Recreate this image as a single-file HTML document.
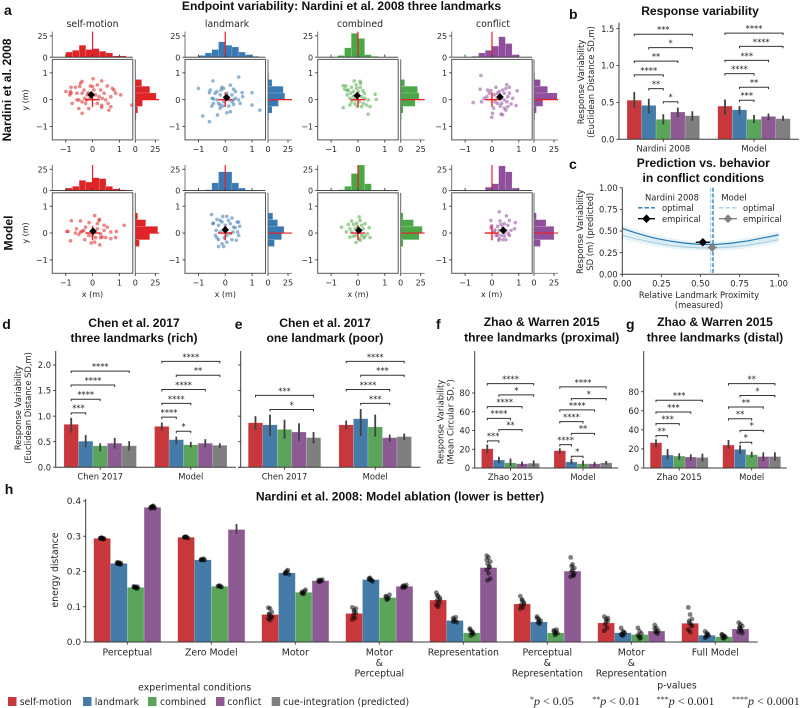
<!DOCTYPE html>
<html lang="en">
<head>
<meta charset="utf-8">
<title>Endpoint variability figure</title>
<style>
html,body{margin:0;padding:0;background:#fff;}
svg{display:block;}
text{font-family:"DejaVu Sans","Liberation Sans",sans-serif;font-size:8.4px;fill:#262626;}
.bold{font-family:"Liberation Sans",Arial,sans-serif;font-weight:700;fill:#111;}
.letter{font-family:"Liberation Sans",Arial,sans-serif;font-weight:700;font-size:14px;fill:#111;}
.title{font-size:12.1px;}
.big{font-size:9.35px;}
.math{font-family:"Liberation Serif",serif;font-size:12px;fill:#262626;}
.mathi{font-style:italic;}
</style>
</head>
<body>
<svg id="figure" xmlns="http://www.w3.org/2000/svg" width="800" height="708" viewBox="0 0 800 708">
<rect x="0" y="0" width="800" height="708" fill="#fff"/>

<text class="letter" x="4" y="15">a</text>
<text class="letter" x="569" y="19">b</text>
<text class="letter" x="569" y="169">c</text>
<text class="letter" x="2.3" y="329">d</text>
<text class="letter" x="234.7" y="329">e</text>
<text class="letter" x="436" y="329">f</text>
<text class="letter" x="626" y="329">g</text>
<text class="letter" x="4.7" y="494">h</text>

<text class="bold title" x="341.5" y="10" text-anchor="middle">Endpoint variability: Nardini et al. 2008 three landmarks</text>
<text class="bold" style="font-size:12.1px" transform="translate(11,90) rotate(-90)" text-anchor="middle">Nardini et al. 2008</text>
<text class="bold" style="font-size:12.1px" transform="translate(12.5,233) rotate(-90)" text-anchor="middle">Model</text>
<text class="big" x="92.5" y="27" text-anchor="middle">self-motion</text>
<text class="big" x="227" y="27" text-anchor="middle">landmark</text>
<text class="big" x="360" y="27" text-anchor="middle">combined</text>
<text class="big" x="493" y="27" text-anchor="middle">conflict</text>
<text style="font-size:8px" transform="translate(28,100) rotate(-90)" text-anchor="middle">y (m)</text>
<text style="font-size:8px" transform="translate(28,233) rotate(-90)" text-anchor="middle">y (m)</text>
<text style="font-size:8px" x="92.5" y="297" text-anchor="middle">x (m)</text>
<text style="font-size:8px" x="225.3" y="297" text-anchor="middle">x (m)</text>
<text style="font-size:8px" x="358" y="297" text-anchor="middle">x (m)</text>
<text style="font-size:8px" x="491.7" y="297" text-anchor="middle">x (m)</text>

<text class="bold title" x="700" y="15" text-anchor="middle">Response variability</text>
<text transform="translate(584,82) rotate(-90)" text-anchor="middle">Response Variability</text>
<text transform="translate(594,82) rotate(-90)" text-anchor="middle">(Euclidean Distance SD,m)</text>

<text class="bold title" x="703.3" y="167" text-anchor="middle">Prediction vs. behavior</text>
<text class="bold title" x="703.3" y="182" text-anchor="middle">in conflict conditions</text>
<text transform="translate(583,231.7) rotate(-90)" text-anchor="middle">Response Variability</text>
<text transform="translate(593,231.7) rotate(-90)" text-anchor="middle">SD (m) (predicted)</text>
<text x="699" y="298" text-anchor="middle">Relative Landmark Proximity</text>
<text x="699" y="308" text-anchor="middle">(measured)</text>

<text class="bold title" x="134" y="327" text-anchor="middle">Chen et al. 2017</text>
<text class="bold title" x="134" y="342" text-anchor="middle">three landmarks (rich)</text>
<text transform="translate(21,408) rotate(-90)" text-anchor="middle">Response Variability</text>
<text transform="translate(31,408) rotate(-90)" text-anchor="middle">(Euclidean Distance SD,m)</text>
<text class="bold title" x="325" y="327" text-anchor="middle">Chen et al. 2017</text>
<text class="bold title" x="325" y="342" text-anchor="middle">one landmark (poor)</text>
<text class="bold title" x="541.7" y="326" text-anchor="middle">Zhao &amp; Warren 2015</text>
<text class="bold title" x="541.7" y="341.5" text-anchor="middle">three landmarks (proximal)</text>
<text transform="translate(443.5,422) rotate(-90)" text-anchor="middle">Response Variability</text>
<text transform="translate(453.5,422) rotate(-90)" text-anchor="middle">(Mean Circular SD,°)</text>
<text class="bold title" x="715" y="326" text-anchor="middle">Zhao &amp; Warren 2015</text>
<text class="bold title" x="715" y="341.5" text-anchor="middle">three landmarks (distal)</text>

<text class="bold title" x="400" y="500.5" text-anchor="middle">Nardini et al. 2008: Model ablation (lower is better)</text>
<text class="big" transform="translate(58,570) rotate(-90)" text-anchor="middle">energy distance</text>

<g>
<text x="672" y="200.5" text-anchor="middle">Nardini 2008</text>
<line x1="638" x2="655" y1="207.8" y2="207.8" stroke="#1f78b4" stroke-width="1.4" stroke-dasharray="4.5 2"/>
<text x="662" y="211">optimal</text>
<line x1="638" x2="655" y1="218.7" y2="218.7" stroke="#000" stroke-width="1.3"/>
<path d="M646.5 214.4 L650.8 218.7 L646.5 223 L642.2 218.7 Z" fill="#000"/>
<text x="662" y="221.8">empirical</text>
<text x="734" y="200.5" text-anchor="middle">Model</text>
<line x1="719" x2="737" y1="207.8" y2="207.8" stroke="#a6cee3" stroke-width="1.4" stroke-dasharray="4.5 2"/>
<text x="743" y="211">optimal</text>
<line x1="719" x2="737" y1="218.7" y2="218.7" stroke="#7f7f7f" stroke-width="1.3"/>
<path d="M728 214.4 L732.3 218.7 L728 223 L723.7 218.7 Z" fill="#7f7f7f"/>
<text x="743" y="221.8">empirical</text>
</g>

<g>
<text class="big" x="194.7" y="690.5" text-anchor="middle">experimental conditions</text>
<rect x="8" y="697" width="8.5" height="9" fill="#c8373b"/>
<text class="big" x="19.7" y="705">self-motion</text>
<rect x="83" y="697" width="8.5" height="9" fill="#447ba8"/>
<text class="big" x="94.7" y="705">landmark</text>
<rect x="148" y="697" width="8.5" height="9" fill="#5aa55a"/>
<text class="big" x="160" y="705">combined</text>
<rect x="216" y="697" width="8.5" height="9" fill="#8e5a94"/>
<text class="big" x="227.3" y="705">conflict</text>
<rect x="271.7" y="697" width="8.5" height="9" fill="#7f7f7f"/>
<text class="big" x="283" y="705">cue-integration (predicted)</text>
</g>

<g>
<text class="big" x="677" y="688.5" text-anchor="middle">p-values</text>
<text class="math" x="530" y="705"><tspan dy="-3" font-size="8">*</tspan><tspan dy="3" class="mathi">p</tspan> &lt; 0.05</text>
<text class="math" x="592.3" y="705"><tspan dy="-3" font-size="8">**</tspan><tspan dy="3" class="mathi">p</tspan> &lt; 0.01</text>
<text class="math" x="656.7" y="705"><tspan dy="-3" font-size="8">***</tspan><tspan dy="3" class="mathi">p</tspan> &lt; 0.001</text>
<text class="math" x="732" y="705"><tspan dy="-3" font-size="8">****</tspan><tspan dy="3" class="mathi">p</tspan> &lt; 0.0001</text>
</g>
</svg>

<script>
// ---------- Panel a data: endpoints ----------
const selfMotionNardini = [[-.99,.30],[-.80,.46],[-.64,.46],[-.45,.61],[-.39,.68],[-.48,.49],[-.85,.18],[-.80,.24],[-.58,.24],[-.39,.24],[-.51,-.01],[-.76,-.14],[-.51,-.33],[-.39,-.51],[-.2,.18],[-.16,.26],[-.22,-.01],[.18,-.14],[.34,-.21],[.02,.78],[.34,.70],[.55,.51],[.68,.11],[1.05,.18],[.58,-.14],[.68,-.26],[.61,-.39],[.34,-.29],[.18,.55],[-.08,.51],[.11,.18],[.3,.36],[.43,.24],[.8,.36],[.49,-.01],[-.14,-.33],[-.32,.36],[.05,.36],[.24,.11],[.36,.05],[-.3,.05],[-.39,-.08],[-.1,.05],[.86,.24],[1.46,-.2],[-.82,.3],[-.58,-.01],[.74,.42],[0,.49],[-.26,-.14]];
const landmarkNardini = [[-1,.42],[-.46,.7],[.5,.84],[-.56,.36],[-.59,.26],[1,.26],[-.84,-.61],[-.59,-.82],[-.29,-.57],[-.5,-.24],[-.49,.05],[-.44,.03],[1.29,-.39],[1,-.2],[.63,.26],[.65,.11],[.56,-.14],[.31,-.18],[.19,-.45],[.06,-.49],[-.19,-.32],[-.25,-.14],[-.06,.42],[.19,.54],[-.13,.46],[.31,.39],[-.31,.3],[-.19,.18],[.06,.24],[.25,.18],[.38,.05],[-.06,-.08],[-.31,-.01],[.13,-.01],[.25,-.08],[-.19,-.2],[.31,-.01],[0,.11],[-.16,.36],[.5,-.01],[-.44,-.14],[-.09,-.24],[.13,-.24],[-.38,.24],[.38,.3]];
const combinedNardini = [[-.14,.7],[-.55,.52],[-.45,.51],[.1,.61],[.08,.68],[.64,.2],[.68,.01],[-.55,-.3],[.38,-.54],[.14,-.26],[-.02,-.26],[-.3,-.2],[-.36,.36],[-.27,.24],[-.17,.11],[-.05,.42],[.01,.3],[.24,.24],[.26,.05],[.14,.11],[.39,-.01],[-.24,.46],[-.4,.34],[-.11,-.01],[-.3,.05],[.05,-.08],[.2,-.14],[.32,-.2],[-.17,.3],[-.07,.55],[.08,.46],[-.24,-.08],[-.11,-.16],[-.4,.18],[-.49,.39],[.18,.34],[-.02,.18],[.45,-.26]];
const conflictNardini = [[-.41,.9],[-.7,-.11],[-.44,.39],[-.39,-.08],[-.29,.05],[-.16,.36],[-.04,.34],[.15,.46],[.55,.56],[.65,.46],[.94,.33],[.9,-.22],[-.01,-.66],[.02,-.51],[.34,-.54],[.4,-.56],[.46,-.32],[.59,-.26],[.71,-.16],[.31,-.24],[.21,-.14],[.11,-.08],[.34,.05],[.46,-.01],[.59,.11],[.27,.3],[.4,.36],[.52,.42],[.09,.18],[.21,.24],[.46,.24],[.65,.24],[-.1,.24],[-.19,.11],[.19,.05],[.36,-.14],[.56,-.08],[.77,.05],[.52,-.39],[.06,-.32]];
const selfMotionModel = [[-.79,.46],[-.45,.45],[-.13,.39],[.08,.65],[.26,.51],[.18,.35],[.43,.29],[1.18,.29],[.89,.06],[.86,-.17],[.68,-.21],[.49,-.17],[.27,-.44],[-.05,-.37],[.08,-.34],[-.29,-.25],[-.82,-.29],[-.96,.06],[-.91,.06],[-.6,.16],[-.64,0],[-.45,.04],[-.33,.1],[-.14,-.09],[-.01,-.09],[-.51,-.05],[.3,-.03],[.43,.1],[.55,.22],[.68,.04],[.3,-.17],[.18,.16],[.11,-.17],[-.26,.22],[-.39,.06],[.24,.47],[.36,-.15]];
const landmarkModel = [[-.51,.69],[-.46,.35],[-.31,.51],[-.09,.62],[.06,.62],[.25,.56],[.5,.41],[.54,.25],[.46,.04],[.5,-.09],[.41,-.27],[.25,-.25],[.06,-.34],[-.06,-.5],[-.25,-.5],[-.12,-.4],[-.25,-.25],[-.37,-.09],[-.34,.1],[-.25,.29],[-.12,.41],[0,.29],[.19,.35],[.31,.22],[.19,-.02],[-.19,.04],[-.31,-.18],[-.04,-.18],[.06,-.09],[.29,.04],[-.19,.47],[.44,.41],[-.44,.37],[.12,.47],[.37,.2]];
const combinedModel = [[-.61,.22],[-.43,.04],[-.24,.45],[.05,.6],[.08,.47],[.26,.35],[.42,.2],[.45,-.17],[-.07,-.35],[.08,-.27],[-.3,-.15],[-.17,.32],[-.05,.37],[.14,.29],[.2,.16],[-.11,.16],[-.24,.04],[-.07,-.09],[.14,-.09],[.26,-.12],[.35,-.03],[-.3,.16],[-.17,-.12],[.05,-.21],[.22,-.18],[-.02,.1],[.08,.1],[-.02,.25],[-.36,.32]];
const conflictModel = [[.27,.79],[.54,.64],[-.04,.47],[-.01,.27],[.3,.45],[.65,.47],[.87,.39],[.84,.16],[-.04,.2],[.09,.04],[.15,-.09],[.25,-.27],[.4,-.25],[.65,-.09],[.71,.1],[.21,.25],[.34,.32],[.46,.35],[.59,.29],[.27,.1],[.4,.1],[.52,.1],[.34,-.09],[.46,-.12],[.52,-.25],[.21,-.09],[.4,.22],[.46,0],[.61,-.02],[.27,-.21],[.11,.12]];
// Histogram counts for 12 bins of width 0.25 from -1.5 to 1.5
const histBinStart = -1.5;
const histBinWidth = 0.25;
const xHistNardini = [[0,0,6,8,14,9,10,7,5,1.5,1.5,0],[0,0,2,5,9,18,14,12,6,3,1,0],[0,0,0,2,11,28,22,3,1,0,0,0],[0,0,0,1,5,8,13,24,16,3,0,0]];
const yHistNardini = [[0,0,0,1,3,9,26,18,8,0,0,0],[0,0,0,1,5,13,21,19,5,1,0,0],[0,0,0,1,3,18,23,21,5,0,0,0],[0,0,0,1,3,11,29,17,8,1,0,0]];
const xHistModel = [[0,0,3,5,12,10,15,14,5,2,1,0],[0,0,0,1,9,22,22,9,3,0,0,0],[0,0,0,1,5,20,30,8,0,0,0,0],[0,0,0,0,0,4,8,29,22,3,0,0]];
const yHistModel = [[0,0,0,0,5,18,28,13,3,0,0,0],[0,0,0,0,8,17,20,12,6,0,0,0],[0,0,0,0,3,23,27,16,3,0,0,0],[0,0,0,0,8,25,25,15,3,0,0,0]];
const meansNardini = [[-.05,.18],[.05,.08],[-.03,.15],[.3,.1]];
const meansModel = [[.02,.07],[0,.12],[.03,.1],[.42,.1]];
const endpointTicks = [-1,0,1];
const histTicks = [0,25];

// ---------- Shared bar styling ----------
const barColors = ['#c8373b','#447ba8','#5aa55a','#8e5a94','#7f7f7f'];
const histColors = ['#dd2426','#3a79b2','#4ca749','#904f9c'];

// ---------- Panel b ----------
const bGroups = ['Nardini 2008','Model'];
const bTicks = [0,0.5,1,1.5];
const bValues = [[.53,.46,.27,.37,.32],[.45,.40,.27,.31,.28]];
const bLow = [[.43,.35,.20,.30,.25],[.33,.34,.22,.26,.25]];
const bHigh = [[.64,.55,.34,.43,.38],[.54,.45,.33,.35,.32]];
const bBrackets = [[0,0,4,1.425,'***'],[0,1,4,1.244,'*'],[0,0,3,1.06,'**'],[0,0,2,.873,'****'],[0,1,2,.688,'**'],[0,2,3,.51,'*'],[1,0,4,1.44,'****'],[1,1,4,1.26,'****'],[1,0,3,1.07,'***'],[1,0,2,.89,'****'],[1,1,3,.706,'**'],[1,1,2,.53,'***']];

// ---------- Panel c ----------
const cProximity = [0,.1,.2,.3,.4,.5,.6,.7,.8,.9,1];
const cNardiniCurve = [.53,.47,.42,.385,.36,.345,.345,.36,.385,.42,.455];
const cModelCurve = [.45,.405,.365,.335,.315,.305,.305,.315,.335,.365,.40];
const cBandHalf = [.04,.04,.04,.035,.035,.03,.03,.035,.035,.04,.04];
const cTicks = [0,.25,.5,.75,1];
const cOptimal = [.58,.565];
const cEmpirical = [[.515,.37,.045,.025],[.575,.31,.03,.03]];

// ---------- Panel d ----------
const dGroups = ['Chen 2017','Model'];
const dTicks = [0,.5,1,1.5,2];
const dValues = [[.84,.51,.42,.47,.42],[.80,.54,.44,.47,.43]];
const dLow = [[.68,.39,.31,.366,.327],[.72,.457,.39,.39,.38]];
const dHigh = [[.967,.63,.47,.575,.51],[.876,.60,.497,.55,.47]];
const dBrackets = [[0,0,4,1.88,'****'],[0,0,3,1.61,'****'],[0,0,2,1.33,'****'],[0,0,1,1.065,'***'],[1,0,4,2.07,'****'],[1,1,4,1.80,'**'],[1,0,3,1.52,'****'],[1,0,2,1.25,'****'],[1,0,1,.98,'****'],[1,1,2,.706,'*']];

// ---------- Panel e ----------
const eValues = [[.87,.83,.74,.69,.58],[.83,.95,.79,.58,.60]];
const eLow = [[.73,.61,.56,.52,.47],[.745,.61,.60,.50,.53]];
const eHigh = [[1.0,1.03,.93,.86,.69],[.915,1.14,1.03,.64,.66]];
const eBrackets = [[0,0,4,1.405,'***'],[0,1,4,1.13,'*'],[1,0,4,2.07,'****'],[1,1,4,1.80,'***'],[1,0,3,1.52,'****'],[1,1,3,1.25,'***']];

// ---------- Panel f ----------
const fGroups = ['Zhao 2015','Model'];
const fTicks = [0,20,40,60,80];
const fValues = [[20.5,8.5,5.5,4.5,5],[18.5,6.5,4.5,4.5,5.5]];
const fLow = [[15.6,5,2,2,2],[15,4,1.5,1.5,3.5]];
const fHigh = [[25,12,10,6.8,8],[21,9.6,8,6.5,7.5]];
const fBrackets = [[0,0,4,90,'****'],[0,1,4,78,'*'],[0,0,3,65.5,'****'],[0,0,2,53,'****'],[0,1,3,41,'**'],[0,0,1,29,'***'],[1,0,4,86.5,'****'],[1,1,4,74,'*'],[1,0,3,62,'****'],[1,0,2,49.5,'****'],[1,1,3,37,'**'],[1,0,1,25,'****'],[1,1,2,12.5,'*']];

// ---------- Panel g ----------
const gValues = [[26.5,13.5,12.5,11.5,11],[24,19.5,14,12,12]];
const gLow = [[21.7,9,8.4,8,6.6],[20,14.7,11,7.3,7.7]];
const gHigh = [[30,20,15.4,14.3,15],[29.4,23.8,17,16.4,16.4]];
const gBrackets = [[0,0,4,71,'***'],[0,0,3,58.7,'***'],[0,0,2,46.5,'***'],[0,0,1,34,'**'],[1,0,4,88.5,'**'],[1,1,4,76,'*'],[1,0,3,64,'**'],[1,0,2,51.7,'**'],[1,1,3,39.5,'*'],[1,1,2,27,'*']];

// ---------- Panel h ----------
const hCategories = ['Perceptual','Zero Model','Motor','Motor\n&\nPerceptual','Representation','Perceptual\n&\nRepresentation','Motor\n&\nRepresentation','Full Model'];
const hTicks = [0,.1,.2,.3,.4];
const hValues = [[.294,.223,.155,.382],[.297,.233,.158,.319],[.078,.196,.141,.174],[.081,.177,.126,.158],[.119,.061,.026,.211],[.108,.057,.026,.201],[.054,.026,.021,.031],[.053,.019,.015,.037]];
const hRuns = [
 [[.294,.295,.293,.296,.292,.294,.295,.293],[.222,.225,.220,.224,.223,.226,.221,.224],[.155,.153,.157,.156,.154,.158,.155,.152],[.382,.385,.380,.383,.386,.379,.384,.381]],
 [[.297,.299,.295,.298,.296,.297],[.234,.235,.232,.233,.236,.233],[.158,.160,.156,.159,.157],[]],
 [[.097,.095,.085,.078,.072,.066,.062,.07,.08],[.196,.201,.192,.198,.204,.194],[.142,.136,.148,.14,.144,.138],[.172,.175,.177,.171,.173,.176]],
 [[.098,.09,.082,.075,.068,.064,.085,.095],[.18,.176,.172,.182,.175,.178],[.128,.122,.134,.12,.125,.13],[.158,.155,.162,.16,.157,.154]],
 [[.14,.13,.125,.118,.11,.105,.1,.12,.132],[.068,.06,.056,.064,.07,.058],[.035,.03,.022,.018,.028,.038,.025],[.245,.24,.228,.222,.212,.205,.195,.18,.175,.215,.233]],
 [[.13,.12,.112,.105,.098,.095,.118,.108],[.072,.065,.06,.055,.052,.068,.058],[.033,.028,.025,.02,.035,.03,.024],[.24,.22,.21,.2,.19,.185,.205,.195,.215,.188]],
 [[.072,.065,.06,.05,.04,.032,.058,.068],[.04,.03,.025,.02,.028,.022,.018],[.04,.03,.024,.016,.012,.02,.01],[.048,.04,.032,.028,.024,.038,.03]],
 [[.098,.078,.065,.055,.05,.035,.028,.045,.06],[.03,.025,.018,.015,.022,.012,.02],[.022,.018,.014,.012,.016,.02,.01],[.055,.05,.045,.04,.032,.028,.036,.025,.042]]
];
const hZeroConflictRange = [.307,.335];

// ---------- Drawing helpers ----------
const root = document.getElementById('figure');
let tickFontSize = 8.4;
function make(tag, attrs, parent) {
  const el = document.createElementNS('http://www.w3.org/2000/svg', tag);
  for (const key in attrs) el.setAttribute(key, attrs[key]);
  (parent || root).appendChild(el);
  return el;
}
function scale(d0, d1, r0, r1) {
  return v => r0 + (v - d0) * (r1 - r0) / (d1 - d0);
}
function minusFormat(v) {
  return String(v).replace('-', '\u2212');
}
function spine(x1, y1, x2, y2, color, width) {
  const el = make('line', {x1, y1, x2, y2, stroke: color || '#3a3a3a', 'stroke-width': width || 1});
  
  
  return el;
}
function yTicks(ticks, yS, x, fmt, showLabels) {
  ticks.forEach(t => {
    const mark = make('line', {x1: x - 2.6, x2: x, y1: yS(t), y2: yS(t), stroke: '#3a3a3a', 'stroke-width': 0.9});
    
    
    if (showLabels !== false) {
      const label = make('text', {x: x - 4.6, y: yS(t) + 3.1, 'text-anchor': 'end'});
      
      
      label.style.fontSize = tickFontSize + 'px';
      label.textContent = fmt(t);
    }
  });
}
function xTicks(ticks, xS, y, fmt, showLabels) {
  ticks.forEach(t => {
    const mark = make('line', {x1: xS(t), x2: xS(t), y1: y, y2: y + 2.6, stroke: '#3a3a3a', 'stroke-width': 0.9});
    
    
    if (showLabels !== false) {
      const label = make('text', {x: xS(t), y: y + 12, 'text-anchor': 'middle'});
      
      
      label.style.fontSize = tickFontSize + 'px';
      label.textContent = fmt(t);
    }
  });
}

// ---------- Panel a ----------
function drawEndpoint(left, top, points, xHist, yHist, mean, colorIndex, rightGap) {
  const width = 80.5;
  const color = histColors[colorIndex];
  const xS = scale(-1.5, 1.5, left, left + width);
  const yS = scale(-1.5, 1.5, top + width, top);
  const base = top - 2.2;
  const topY = scale(0, 30, base, base - 25.6);
  const histLeft = left + width + rightGap;
  const rightX = scale(0, 30, histLeft, histLeft + 24);

  xHist.forEach((count, i) => {
    if (!count) return;
    const start = histBinStart + i * histBinWidth;
    const bar = make('rect', {x: xS(start), y: topY(count), width: xS(start + histBinWidth) - xS(start), height: base - topY(count), fill: color, stroke: '#fff', 'stroke-opacity': 0.35, 'stroke-width': 0.4});
    
    
  });
  yHist.forEach((count, i) => {
    if (!count) return;
    const start = histBinStart + i * histBinWidth;
    const bar = make('rect', {x: histLeft, y: yS(start + histBinWidth), width: rightX(count) - histLeft, height: yS(start) - yS(start + histBinWidth), fill: color, stroke: '#fff', 'stroke-opacity': 0.35, 'stroke-width': 0.4});
    
    
  });

  const topRef = make('line', {x1: xS(0), x2: xS(0), y1: base, y2: base - 25.6, stroke: '#f01c24', 'stroke-width': 1.2});
  
  
  const rightRef = make('line', {x1: histLeft, x2: histLeft + 24, y1: yS(0), y2: yS(0), stroke: '#f01c24', 'stroke-width': 1.2});
  
  

  spine(xS(-1.5), base - 25.6, xS(-1.5), base, '#777', 1);
  spine(xS(-1.5), base, xS(1.5), base, '#333', 0.9);
  spine(histLeft, yS(1.5), histLeft, yS(-1.5), '#666', 1);
  spine(histLeft, yS(-1.5), histLeft + 24, yS(-1.5), '#777', 0.9);
  tickFontSize = 8;
  yTicks(histTicks, topY, xS(-1.5), minusFormat);
  xTicks(histTicks, rightX, yS(-1.5), minusFormat);
  xTicks(endpointTicks, xS, base - 2.6, minusFormat, false);

  points.forEach(p => {
    const dot = make('circle', {cx: xS(p[0]), cy: yS(p[1]), r: 1.8, fill: color, 'fill-opacity': 0.55});
    
    
  });
  const crossH = make('line', {x1: xS(-0.27), x2: xS(0.27), y1: yS(0), y2: yS(0), stroke: '#f01c24', 'stroke-width': 1.4});
  
  
  const crossV = make('line', {x1: xS(0), x2: xS(0), y1: yS(-0.27), y2: yS(0.27), stroke: '#f01c24', 'stroke-width': 1.4});
  
  
  const cx = xS(mean[0]);
  const cy = yS(mean[1]);
  const marker = make('path', {d: 'M' + cx + ' ' + (cy - 3.8) + 'L' + (cx + 3.8) + ' ' + cy + 'L' + cx + ' ' + (cy + 3.8) + 'L' + (cx - 3.8) + ' ' + cy + 'Z', fill: '#000'});
  
  

  const box = make('rect', {x: left, y: top, width, height: width, fill: 'none', stroke: '#555', 'stroke-width': 1});
  
  
  xTicks(endpointTicks, xS, top + width, minusFormat);
  yTicks(endpointTicks, yS, left, minusFormat);
  tickFontSize = 8.4;
}
const endpointLefts = [52.3, 185, 317.7, 451.7];
const endpointGaps = [2.5, 2.5, 2.5, 1.8];
[selfMotionNardini, landmarkNardini, combinedNardini, conflictNardini].forEach((pts, c) => {
  drawEndpoint(endpointLefts[c], 59.4, pts, xHistNardini[c], yHistNardini[c], meansNardini[c], c, endpointGaps[c]);
});
[selfMotionModel, landmarkModel, combinedModel, conflictModel].forEach((pts, c) => {
  drawEndpoint(endpointLefts[c], 192.8, pts, xHistModel[c], yHistModel[c], meansModel[c], c, endpointGaps[c]);
});

// ---------- Grouped bar panels ----------
function drawBarPanel(cfg) {
  const xS = scale(0, 1, cfg.c0, cfg.c1);
  const yS = scale(0, cfg.vRef, cfg.base, cfg.yRef);
  const barStep = 0.16;
  cfg.values.forEach((group, g) => {
    group.forEach((v, b) => {
      const x0 = xS(g + (b - 2.5) * barStep);
      const x1 = xS(g + (b - 1.5) * barStep);
      const bar = make('rect', {x: x0, y: yS(v), width: x1 - x0, height: cfg.base - yS(v), fill: barColors[b], stroke: '#fff', 'stroke-opacity': 0.35, 'stroke-width': 0.5});
      
      
      const err = make('line', {x1: (x0 + x1) / 2, x2: (x0 + x1) / 2, y1: yS(cfg.low[g][b]), y2: yS(cfg.high[g][b]), stroke: '#424242', 'stroke-width': 1.8});
      
      
    });
  });
  cfg.brackets.forEach(br => {
    const xa = xS(br[0] + (br[1] - 2) * barStep);
    const xb = xS(br[0] + (br[2] - 2) * barStep);
    const y = yS(br[3]);
    const path = make('path', {d: 'M' + xa + ' ' + (y + 1.9) + 'V' + y + 'H' + xb + 'V' + (y + 1.9), fill: 'none', stroke: '#333', 'stroke-width': 1});
    
    
    const label = make('text', {x: (xa + xb) / 2, y: y - 1.6, 'text-anchor': 'middle'});
    
    
    label.textContent = br[4];
  });
  spine(cfg.left, cfg.top, cfg.left, cfg.base);
  spine(cfg.axisStart === undefined ? cfg.left : cfg.axisStart, cfg.base, cfg.right, cfg.base);
  yTicks(cfg.ticks, yS, cfg.left, cfg.fmt, cfg.showTickLabels);
  xTicks([0, 1], xS, cfg.base, i => cfg.groups[i]);
}
drawBarPanel({values: bValues, low: bLow, high: bHigh, brackets: bBrackets, groups: bGroups, ticks: bTicks, fmt: v => v.toFixed(1), c0: 663.3, c1: 754, base: 139.3, vRef: 1.5, yRef: 28.7, left: 619, right: 799, top: 22.7});
drawBarPanel({values: dValues, low: dLow, high: dHigh, brackets: dBrackets, groups: dGroups, ticks: dTicks, fmt: v => v.toFixed(1), c0: 100.2, c1: 190.8, base: 467.3, vRef: 2, yRef: 365, left: 55.7, right: 236, top: 351});
drawBarPanel({values: eValues, low: eLow, high: eHigh, brackets: eBrackets, groups: dGroups, ticks: dTicks, fmt: v => v.toFixed(1), showTickLabels: false, c0: 284.5, c1: 375.2, base: 467.3, vRef: 2, yRef: 365, left: 240.7, axisStart: 238, right: 420.5, top: 351});
drawBarPanel({values: fValues, low: fLow, high: fHigh, brackets: fBrackets, groups: fGroups, ticks: fTicks, fmt: String, c0: 510.5, c1: 583, base: 468, vRef: 80, yRef: 393, left: 474.7, right: 618.3, top: 351});
drawBarPanel({values: gValues, low: gLow, high: gHigh, brackets: gBrackets, groups: fGroups, ticks: fTicks, fmt: String, c0: 679.2, c1: 751.7, base: 468, vRef: 80, yRef: 391.7, left: 643.7, right: 786.7, top: 351});

// ---------- Panel c ----------
(function drawPrediction() {
  const xS = scale(0, 1, 622.3, 778.7);
  const yS = scale(0, 1, 274.3, 187.7);
  const bandPoints = (curve, sign) => cProximity.map((p, i) => xS(p) + ',' + yS(curve[i] + sign * cBandHalf[i]));
  const bandA = make('polygon', {points: bandPoints(cModelCurve, 1).concat(bandPoints(cModelCurve, -1).reverse()).join(' '), fill: '#a6cee3', 'fill-opacity': 0.25});
  
  
  const bandB = make('polygon', {points: bandPoints(cNardiniCurve, 1).concat(bandPoints(cNardiniCurve, -1).reverse()).join(' '), fill: '#a6cee3', 'fill-opacity': 0.25});
  
  
  const lineModel = make('polyline', {points: cProximity.map((p, i) => xS(p) + ',' + yS(cModelCurve[i])).join(' '), fill: 'none', stroke: '#a6cee3', 'stroke-width': 1.2});
  
  
  const lineNardini = make('polyline', {points: cProximity.map((p, i) => xS(p) + ',' + yS(cNardiniCurve[i])).join(' '), fill: 'none', stroke: '#1f78b4', 'stroke-width': 1.2});
  
  
  const optimalNardini = make('line', {x1: xS(cOptimal[0]), x2: xS(cOptimal[0]), y1: 187.7, y2: 274.3, stroke: '#1f78b4', 'stroke-width': 1.3, 'stroke-dasharray': '4 1.8'});
  
  
  const optimalModel = make('line', {x1: xS(cOptimal[1]), x2: xS(cOptimal[1]), y1: 187.7, y2: 274.3, stroke: '#a6cee3', 'stroke-width': 1.3, 'stroke-dasharray': '4 1.8'});
  
  
  const markerColors = ['#000', '#7f7f7f'];
  cEmpirical.forEach((e, i) => {
    const cx = xS(e[0]);
    const cy = yS(e[1]);
    const errX = make('line', {x1: xS(e[0] - e[2]), x2: xS(e[0] + e[2]), y1: cy, y2: cy, stroke: markerColors[i], 'stroke-width': 1.4});
    
    
    const errY = make('line', {x1: cx, x2: cx, y1: yS(e[1] - e[3]), y2: yS(e[1] + e[3]), stroke: markerColors[i], 'stroke-width': 1.4});
    
    
    const marker = make('path', {d: 'M' + cx + ' ' + (cy - 4.3) + 'L' + (cx + 4.3) + ' ' + cy + 'L' + cx + ' ' + (cy + 4.3) + 'L' + (cx - 4.3) + ' ' + cy + 'Z', fill: markerColors[i]});
    
    
  });
  spine(622.3, 187.7, 622.3, 274.3);
  spine(622.3, 274.3, 778.7, 274.3);
  yTicks(cTicks, yS, 622.3, v => v.toFixed(2));
  xTicks(cTicks, xS, 274.3, v => v.toFixed(2));
})();

// ---------- Panel h ----------
(function drawAblation() {
  const xS = scale(0, 1, 127.3, 211.3);
  const yS = scale(0, 0.4, 642, 501);
  const barStep = 0.2;
  hValues.forEach((group, g) => {
    group.forEach((v, b) => {
      const x0 = xS(g + (b - 2) * barStep);
      const x1 = xS(g + (b - 1) * barStep);
      const bar = make('rect', {x: x0, y: yS(v), width: x1 - x0, height: 642 - yS(v), fill: barColors[b], stroke: '#fff', 'stroke-opacity': 0.35, 'stroke-width': 0.5});
      
      
    });
  });
  hValues.forEach((group, g) => {
    group.forEach((v, b) => {
      const cx = xS(g + (b - 1.5) * barStep);
      hRuns[g][b].forEach((run, i) => {
        const dot = make('circle', {cx: cx + ((i * 7) % 5 - 2) * 0.9, cy: yS(run), r: 2.4, fill: '#000', 'fill-opacity': 0.5});
        
        
      });
    });
  });
  const zeroErrX = xS(1 + 1.5 * barStep);
  const zeroErr = make('line', {x1: zeroErrX, x2: zeroErrX, y1: yS(hZeroConflictRange[0]), y2: yS(hZeroConflictRange[1]), stroke: '#424242', 'stroke-width': 1.8});
  
  
  spine(85.7, 499, 85.7, 642);
  spine(85.7, 642, 757.7, 642);
  tickFontSize = 9;
  yTicks(hTicks, yS, 85.7, v => v.toFixed(1));
  tickFontSize = 8.4;
  hCategories.forEach((name, i) => {
    const mark = make('line', {x1: xS(i), x2: xS(i), y1: 642, y2: 644.6, stroke: '#3a3a3a', 'stroke-width': 0.9});
    
    
    name.split('\n').forEach((line, l) => {
      const label = make('text', {x: xS(i), y: 655.3 + l * 10.6, 'text-anchor': 'middle'});
      
      
      label.style.fontSize = '9.4px';
      label.textContent = line;
    });
  });
})();
</script>
</body>
</html>
